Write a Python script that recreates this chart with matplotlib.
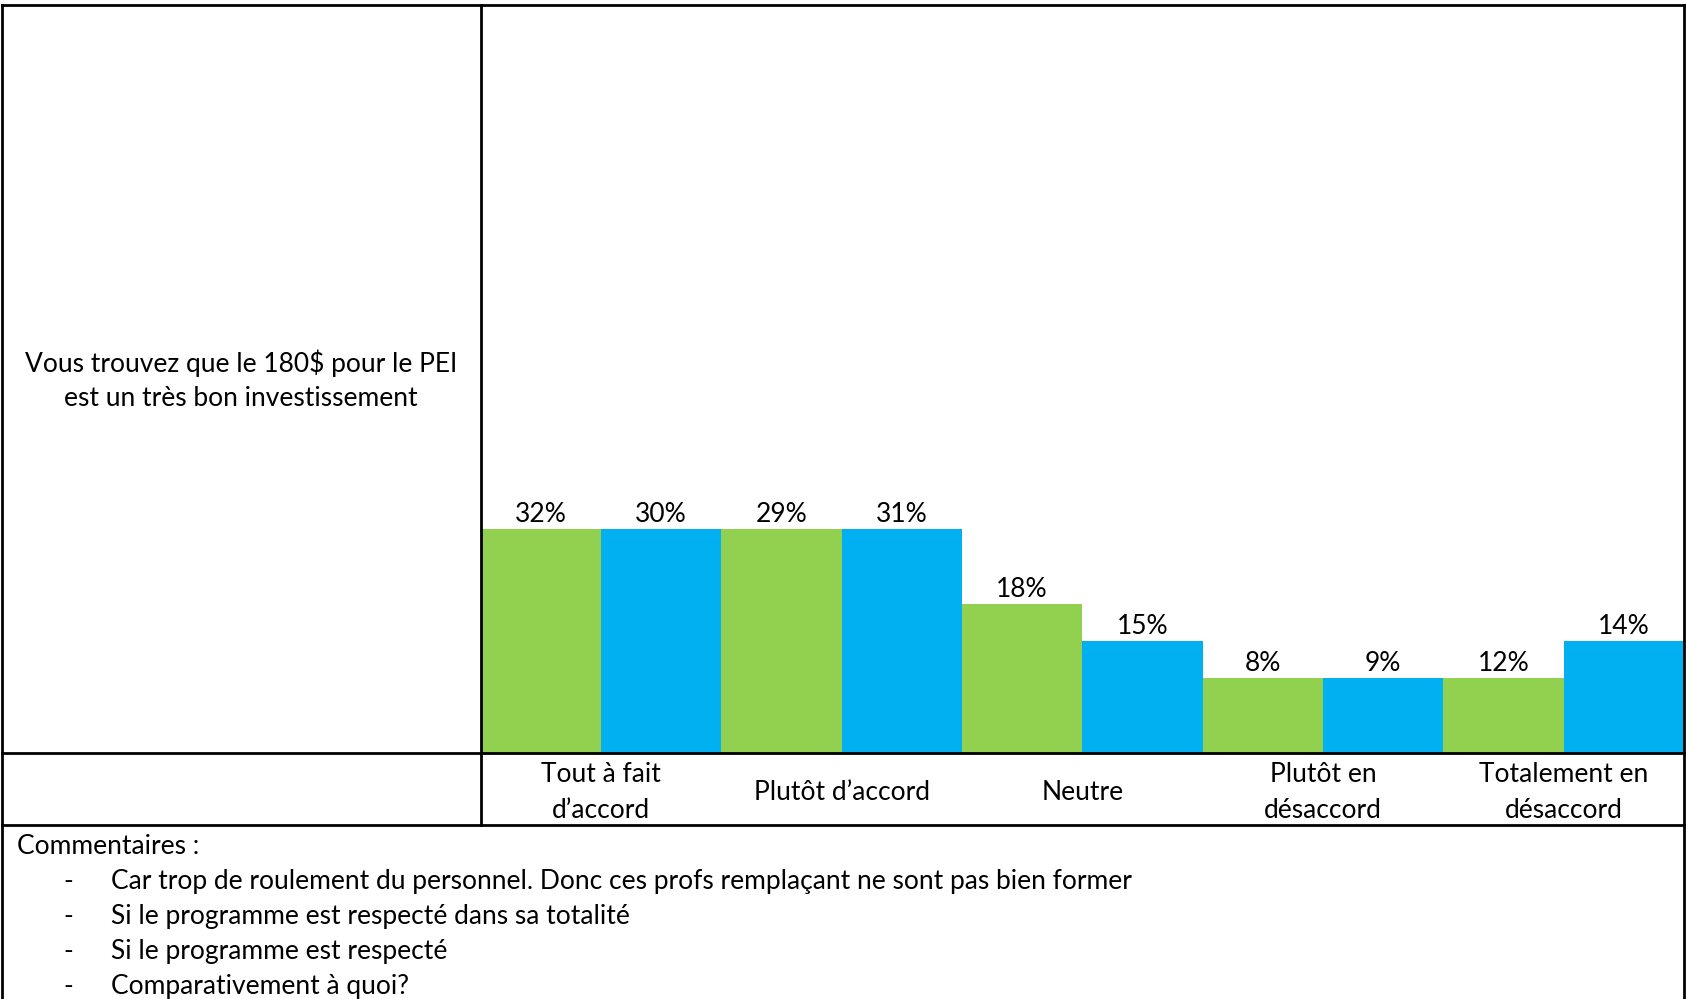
import matplotlib
matplotlib.use("Agg")
import matplotlib.pyplot as plt
from matplotlib.lines import Line2D

# ---- data ----
categories = ["Tout à fait\nd’accord", "Plutôt d’accord", "Neutre",
              "Plutôt en\ndésaccord", "Totalement en\ndésaccord"]
# two series per category (green, blue): printed percentages
pct_labels = [32, 30, 29, 31, 18, 15, 8, 9, 12, 14]
# bar heights as drawn in the picture (in %)
bar_heights = [30, 30, 30, 30, 20, 15, 10, 10, 10, 15]
series_colors = ["#92D050", "#00B0F0"]
question = "Vous trouvez que le 180$ pour le PEI\nest un très bon investissement"
comments_title = "Commentaires :"
comments = [
    "Car trop de roulement du personnel. Donc ces profs remplaçant ne sont pas bien former",
    "Si le programme est respecté dans sa totalité",
    "Si le programme est respecté",
    "Comparativement à quoi?",
]

W, H = 1686, 999
FONT = ["Lato", "DejaVu Sans"]
FS = 19

fig = plt.figure(figsize=(W / 100, H / 100), dpi=100)
fig.patch.set_facecolor("white")

def fx(x):
    return x / W

def fy(y):
    return 1 - y / H

# table geometry (pixels)
x_left, x_div, x_right = 2, 480.7, 1684
y_top, y_axis, y_row = 5.4, 752.7, 824.8

ax = fig.add_axes([fx(x_div), fy(y_axis), fx(x_right) - fx(x_div), fy(y_top) - fy(y_axis)])
colors = [series_colors[i % 2] for i in range(len(bar_heights))]
xs = list(range(len(bar_heights)))
ax.bar(xs, bar_heights, width=1.0, color=colors, edgecolor="none", zorder=1)
ax.set_xlim(-0.5, len(bar_heights) - 0.5)
ax.set_ylim(0, 100.4)
ax.axis("off")

for x, h, p in zip(xs, bar_heights, pct_labels):
    ax.annotate(f"{p}%", xy=(x, h), xytext=(0, 7), textcoords="offset pixels",
                ha="center", va="baseline", fontsize=FS, family=FONT, color="black")

# table lines
lw = 2.0
def hline(y, x0=x_left, x1=x_right):
    fig.add_artist(Line2D([fx(x0), fx(x1)], [fy(y), fy(y)], color="black", lw=lw,
                          solid_capstyle="projecting"))
def vline(x, y0, y1):
    fig.add_artist(Line2D([fx(x), fx(x)], [fy(y0), fy(y1)], color="black", lw=lw,
                          solid_capstyle="projecting"))

hline(y_top)
hline(y_axis)
hline(y_row)
vline(x_left, y_top, H + 5)
vline(x_right, y_top, H + 5)
vline(x_div, y_top, y_row)

# question text
q_lines = question.split("\n")
q_y = [363, 398]
for t, y in zip(q_lines, q_y):
    fig.text(fx(241), fy(y), t, ha="center", va="center", fontsize=FS, family=FONT)

# category labels
bar_w = (x_right - x_div) / len(bar_heights)
for k, cat in enumerate(categories):
    cx = x_div + bar_w * (2 * k + 1)
    lines = cat.split("\n")
    ys = [792] if len(lines) == 1 else [775, 810]
    for t, y in zip(lines, ys):
        fig.text(fx(cx), fy(y), t, ha="center", va="center", fontsize=FS, family=FONT)

# comments
fig.text(fx(17), fy(846), comments_title, ha="left", va="center", fontsize=FS, family=FONT)
for i, c in enumerate(comments):
    y = 881 + i * 35.2
    fig.text(fx(68), fy(y), "-", ha="center", va="center", fontsize=FS, family=FONT)
    fig.text(fx(111), fy(y), c, ha="left", va="center", fontsize=FS, family=FONT)

fig.savefig("out.png", dpi=100, facecolor="white")
